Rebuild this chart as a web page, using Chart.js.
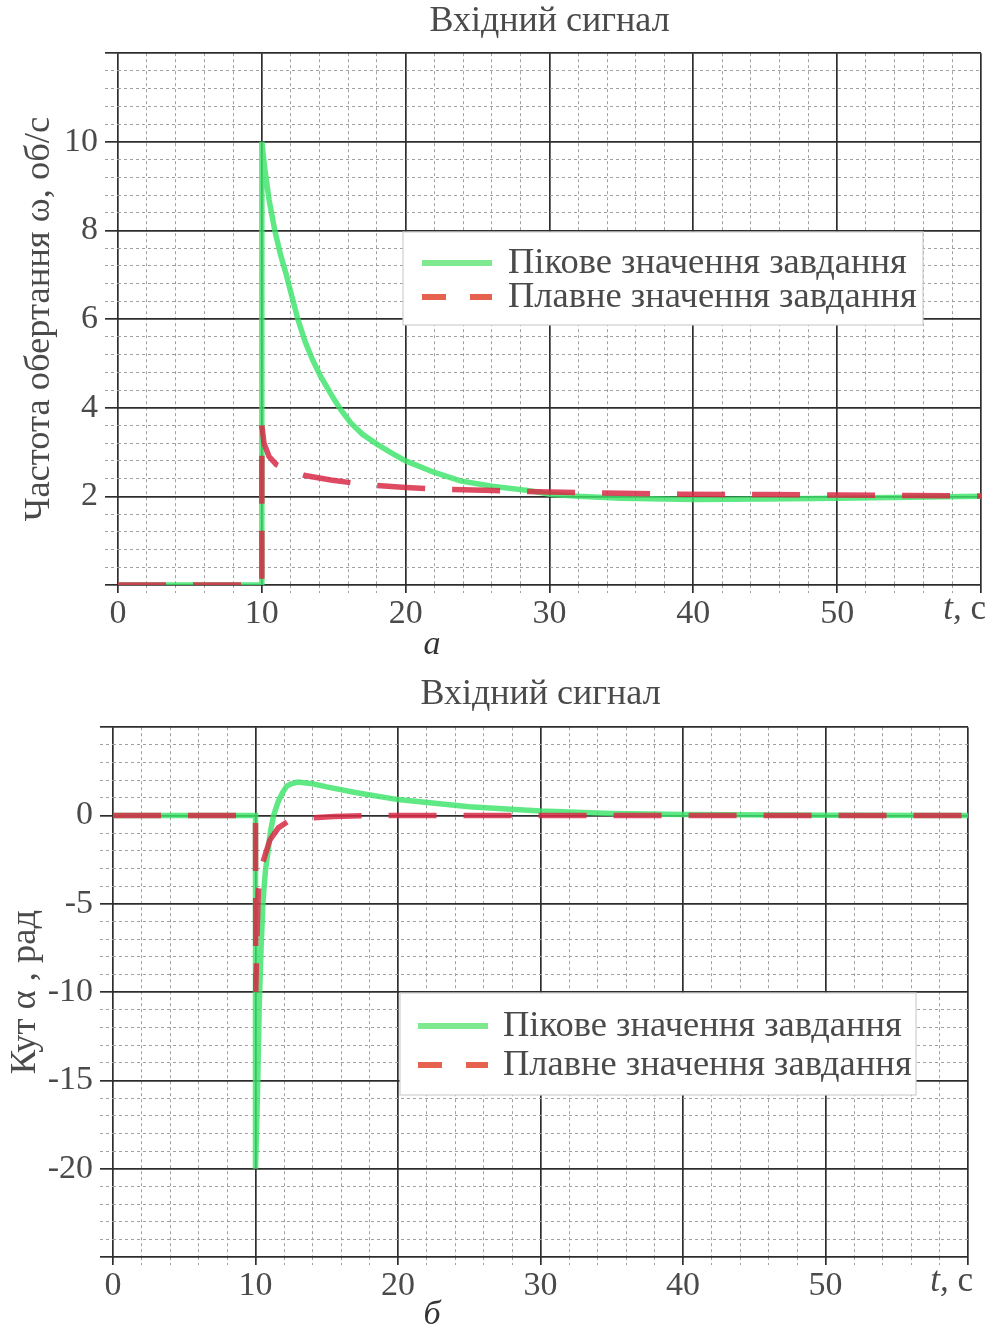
<!DOCTYPE html>
<html><head><meta charset="utf-8">
<script src="https://cdn.jsdelivr.net/npm/chart.js@4.4.1/dist/chart.umd.min.js"></script>
<style>
html,body{margin:0;padding:0;background:#fff;overflow:hidden;width:989px;height:1327px;}
#w1{position:absolute;left:0;top:0;width:989px;height:665px;}
#w2{position:absolute;left:0;top:665px;width:989px;height:680px;}
</style></head><body>
<div id="w1"><canvas id="c1"></canvas></div>
<div id="w2"><canvas id="c2"></canvas></div>
<script>
// ---------- data ----------
const chartTitle = 'Вхідний сигнал';
const seriesNames = ['Пікове значення завдання', 'Плавне значення завдання'];
const xTickLabels = ['0', '10', '20', '30', '40', '50'];
const yTickLabelsA = ['2', '4', '6', '8', '10'];
const yTickLabelsB = ['0', '-5', '-10', '-15', '-20'];

// (а) rotation frequency ω, об/с
const peakTimeA   = [0, 10, 10, 10.2, 10.5, 10.9, 11.3, 11.7, 12.1, 12.5, 13, 13.5, 14.1, 15, 15.5, 16.2, 17, 18, 19, 20, 22, 23.8, 26, 28.6, 30, 32, 35, 40, 45, 50, 55, 60];
const omegaPeak   = [0, 0, 10, 9.4, 8.7, 8.0, 7.45, 7.0, 6.5, 6.0, 5.5, 5.1, 4.7, 4.2, 3.95, 3.65, 3.4, 3.18, 2.98, 2.8, 2.54, 2.35, 2.23, 2.13, 2.05, 2.0, 1.96, 1.93, 1.94, 1.955, 1.98, 2.0];
const smoothTimeA = [0, 10, 10, 10.15, 10.5, 11, 11.7, 13, 14.8, 17.3, 20, 21.7, 24, 26.1, 30, 35, 39, 45, 50, 55, 60];
const omegaSmooth = [0, 0, 3.6, 3.2, 2.9, 2.72, 2.62, 2.47, 2.37, 2.26, 2.2, 2.17, 2.15, 2.13, 2.1, 2.07, 2.05, 2.04, 2.03, 2.02, 2.01];

// (б) angle α, рад
const peakTimeB   = [0, 10, 10, 10.13, 10.27, 10.4, 10.53, 10.7, 10.9, 11.05, 11.27, 11.6, 11.9, 12.2, 12.5, 12.95, 14, 15, 17, 20, 25, 30, 35, 40, 50, 60];
const alphaPeak   = [0, 0, -20, -16.1, -10.5, -7.3, -4.8, -3.1, -1.9, -0.9, 0, 0.8, 1.3, 1.67, 1.8, 1.89, 1.8, 1.62, 1.3, 0.9, 0.5, 0.25, 0.12, 0.05, 0.01, 0];
const smoothTimeB = [0, 10, 10.02, 10.1, 10.2, 10.5, 11, 11.6, 12.25, 13.5, 15.5, 18, 60];
const alphaSmooth = [0, 0, -10, -7, -4.3, -2.7, -1.4, -0.7, -0.35, -0.15, -0.05, 0, 0];

// ---------- helpers ----------
const FONT = "'Liberation Serif', 'Times New Roman', serif";
const TXT = '#4a4a4a';
const GREEN = 'rgba(60, 228, 105, 0.82)';
const RED = 'rgba(216, 42, 70, 0.85)';
const pts = (xs, ys) => xs.map((x, i) => ({x, y: ys[i]}));
const near = (v, m) => Math.abs(v / m - Math.round(v / m)) < 1e-6;

function gridOpts(step, tickLen) {
  const major = c => c.tick && near(c.tick.value, step);
  return {
    grid: {
      color: c => major(c) ? '#2e2e2e' : '#a0a0a0',
      lineWidth: c => major(c) ? 1.7 : 1,
      tickLength: tickLen,
      drawTicks: true,
      tickBorderDash: c => major(c) ? [] : [3, 3],
      borderDash: c => major(c) ? [] : [3, 3]
    },
    border: { display: false, dash: c => (c.tick && !major(c)) ? [3, 3] : [] }
  };
}

const decor = {
  id: 'decor',
  afterDraw(chart, args, o) {
    const ctx = chart.ctx;
    const L = o.legend;
    ctx.save();
    ctx.fillStyle = '#fff';
    ctx.strokeStyle = '#cfcfcf';
    ctx.lineWidth = 1.2;
    ctx.fillRect(L.x, L.y, L.w, L.h);
    ctx.strokeRect(L.x, L.y, L.w, L.h);
    const colors = ['#7ee98e', '#e6624e'];
    chart.data.datasets.forEach((ds, i) => {
      const ry = L.rows[i];
      ctx.strokeStyle = colors[i];
      ctx.lineWidth = 6;
      ctx.setLineDash(i ? [24, 24] : []);
      ctx.beginPath();
      ctx.moveTo(L.lx1, ry); ctx.lineTo(L.lx2, ry); ctx.stroke();
      ctx.setLineDash([]);
      ctx.fillStyle = TXT;
      ctx.font = L.size + 'px ' + FONT;
      ctx.textBaseline = 'middle';
      ctx.textAlign = 'left';
      ctx.fillText(ds.label, L.tx, ry);
    });
    // axis unit "t, с"
    const xs = chart.scales.x;
    const y = xs.top + o.unitDy;
    ctx.font = 'italic 35px ' + FONT;
    const w1 = ctx.measureText('t,').width;
    ctx.font = '35px ' + FONT;
    const w2 = ctx.measureText(' с').width;
    const right = chart.chartArea.right + o.unitDx;
    ctx.fillStyle = TXT;
    ctx.textBaseline = 'middle';
    ctx.textAlign = 'left';
    ctx.font = 'italic 35px ' + FONT;
    ctx.fillText('t,', right - w1 - w2, y);
    ctx.font = '35px ' + FONT;
    ctx.fillText(' с', right - w2, y);
    // caption
    ctx.fillStyle = '#333';
    ctx.font = 'italic 34px ' + FONT;
    ctx.textAlign = 'center';
    ctx.fillText(o.caption, o.capX, o.capY);
    ctx.restore();
  }
};

function makeChart(id, cfg) {
  const xg = gridOpts(10, 8);
  const yg = gridOpts(cfg.yMajor, 13);
  return new Chart(document.getElementById(id), {
    type: 'line',
    data: {
      datasets: [
        { label: seriesNames[0], data: cfg.peak, borderColor: GREEN, borderWidth: 5.5, pointRadius: 0, tension: 0, order: 2, fill: false },
        { label: seriesNames[1], data: cfg.smooth, borderColor: RED, borderWidth: 5.5, borderDash: [48, 27], pointRadius: 0, tension: 0, order: 1, fill: false }
      ]
    },
    options: {
      responsive: true, maintainAspectRatio: false, animation: false,
      layout: { padding: { left: 0, right: cfg.padRight, top: 0, bottom: cfg.padBottom } },
      plugins: {
        legend: { display: false },
        tooltip: { enabled: false },
        title: { display: true, fullSize: false, text: chartTitle, color: TXT, font: { family: FONT, size: 36, weight: 'normal', lineHeight: 1.2 }, padding: cfg.titlePad },
        decor: cfg.decor
      },
      scales: {
        x: {
          type: 'linear', min: 0, max: 60,
          ticks: { stepSize: 2, autoSkip: false, maxRotation: 0, padding: 4, color: TXT, font: { family: FONT, size: 34, lineHeight: 1 },
            callback: v => { const s = String(Math.round(v * 100) / 100); return xTickLabels.includes(s) ? s : ''; } },
          grid: xg.grid, border: xg.border,
          afterFit: s => { s.height = cfg.xAxisH; }
        },
        y: {
          type: 'linear', min: cfg.yMin, max: cfg.yMax,
          ticks: { stepSize: cfg.yStep, autoSkip: false, padding: 7, color: TXT, font: { family: FONT, size: 34, lineHeight: 1 },
            callback: v => { const s = String(Math.round(v * 100) / 100); return cfg.yLabels.includes(s) ? s : ''; } },
          grid: yg.grid, border: yg.border,
          title: { display: true, text: cfg.yTitle, color: TXT, font: { family: FONT, size: 36.5, lineHeight: 1.2 }, padding: { top: cfg.yTitlePad, bottom: 0 } },
          afterFit: s => { s.width = cfg.yAxisW; }
        }
      }
    },
    plugins: [decor]
  });
}

makeChart('c1', {
  peak: pts(peakTimeA, omegaPeak), smooth: pts(smoothTimeA, omegaSmooth),
  yMin: 0, yMax: 12, yStep: 0.4, yMajor: 2, yLabels: yTickLabelsA,
  yTitle: 'Частота обертання ω, об/с', yTitlePad: 18, yAxisW: 118, padRight: 8, padBottom: 38,
  xAxisH: 42,
  titlePad: { top: 0, bottom: 10 },
  decor: { legend: { x: 403, y: 232, w: 520, h: 93, rows: [263, 297], lx1: 422, lx2: 492, tx: 508, size: 36.5 }, unitDx: 5, unitDy: 25, caption: 'а', capX: 432, capY: 645 }
});

makeChart('c2', {
  peak: pts(peakTimeB, alphaPeak), smooth: pts(smoothTimeB, alphaSmooth),
  yMin: -25, yMax: 5, yStep: 1, yMajor: 5, yLabels: yTickLabelsB,
  yTitle: 'Кут α , рад', yTitlePad: 4, yAxisW: 113, padRight: 21, padBottom: 48,
  xAxisH: 40,
  titlePad: { top: 8, bottom: 11 },
  decor: { legend: { x: 400, y: 328, w: 516, h: 102, rows: [361, 400], lx1: 418, lx2: 488, tx: 503, size: 36.5 }, unitDx: 5, unitDy: 25, caption: 'б', capX: 432, capY: 650 }
});
</script>
</body></html>
